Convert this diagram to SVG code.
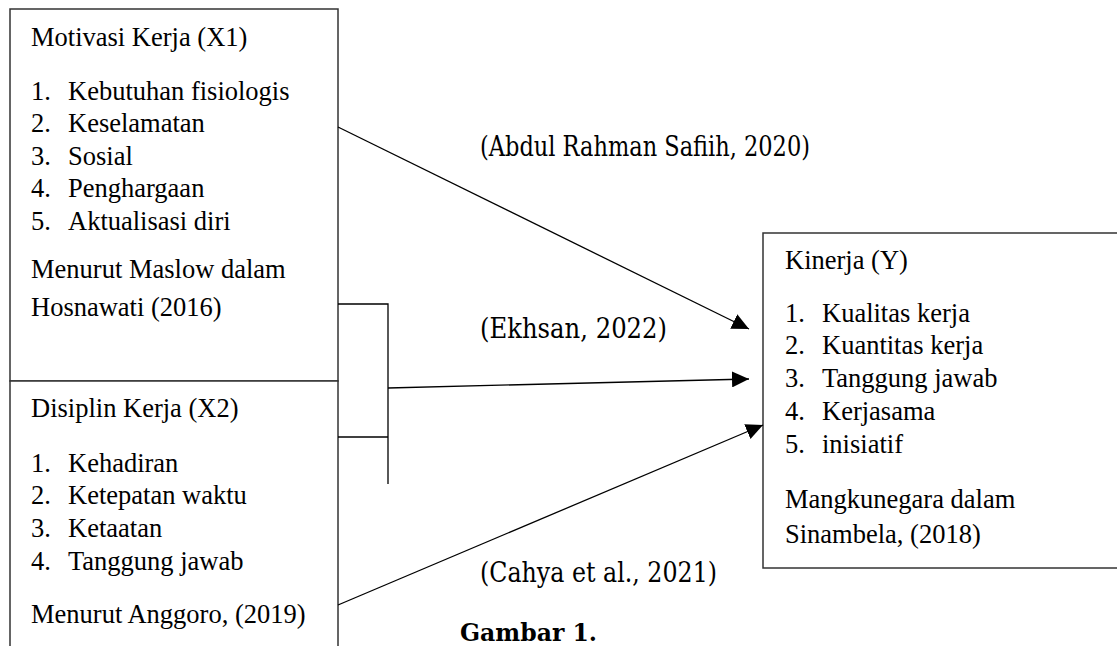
<svg xmlns="http://www.w3.org/2000/svg" width="1117" height="646" viewBox="0 0 1117 646">
<style>
.box{fill:#fff;stroke:#333;stroke-width:1.5}
.t{font-family:"Liberation Serif","Times New Roman",serif;font-size:26.5px;fill:#000}
.c{font-family:"DejaVu Serif","Liberation Serif",serif;font-size:27px;fill:#000}
.b{font-family:"DejaVu Serif","Liberation Serif",serif;font-size:24px;font-weight:bold;fill:#000}
.ln{stroke:#000;stroke-width:1.3;fill:none}
</style>
<defs>
<marker id="ah" markerWidth="18" markerHeight="16" refX="17" refY="8" orient="auto" markerUnits="userSpaceOnUse">
<path d="M0,0 L17,8 L0,16 Z" fill="#000"/>
</marker>
</defs>
<rect width="1117" height="646" fill="#fff"/>
<g id="x1">
<rect class="box" x="10" y="9" width="328" height="372"/>
<text class="t" x="31" y="46">Motivasi Kerja (X1)</text>
<text class="t" x="31" y="100">1.</text><text class="t" x="68" y="100">Kebutuhan fisiologis</text>
<text class="t" x="31" y="132">2.</text><text class="t" x="68" y="132">Keselamatan</text>
<text class="t" x="31" y="165">3.</text><text class="t" x="68" y="165">Sosial</text>
<text class="t" x="31" y="197">4.</text><text class="t" x="68" y="197">Penghargaan</text>
<text class="t" x="31" y="230">5.</text><text class="t" x="68" y="230">Aktualisasi diri</text>
<text class="t" x="31" y="278">Menurut Maslow dalam</text>
<text class="t" x="31" y="316">Hosnawati (2016)</text>
</g>
<g id="x2">
<rect class="box" x="10" y="381" width="328" height="300"/>
<text class="t" x="31" y="417">Disiplin Kerja (X2)</text>
<text class="t" x="31" y="472">1.</text><text class="t" x="68" y="472">Kehadiran</text>
<text class="t" x="31" y="504">2.</text><text class="t" x="68" y="504">Ketepatan waktu</text>
<text class="t" x="31" y="537">3.</text><text class="t" x="68" y="537">Ketaatan</text>
<text class="t" x="31" y="570">4.</text><text class="t" x="68" y="570">Tanggung jawab</text>
<text class="t" x="31" y="623">Menurut Anggoro, (2019)</text>
</g>
<g id="y">
<rect class="box" x="763" y="233" width="360" height="335"/>
<text class="t" x="785" y="269">Kinerja (Y)</text>
<text class="t" x="785" y="322">1.</text><text class="t" x="822" y="322">Kualitas kerja</text>
<text class="t" x="785" y="354">2.</text><text class="t" x="822" y="354">Kuantitas kerja</text>
<text class="t" x="785" y="387">3.</text><text class="t" x="822" y="387">Tanggung jawab</text>
<text class="t" x="785" y="420">4.</text><text class="t" x="822" y="420">Kerjasama</text>
<text class="t" x="785" y="453">5.</text><text class="t" x="822" y="453">inisiatif</text>
<text class="t" x="785" y="508">Mangkunegara dalam</text>
<text class="t" x="785" y="543">Sinambela, (2018)</text>
</g>
<g id="connectors">
<line class="ln" x1="338" y1="127" x2="749" y2="329" marker-end="url(#ah)"/>
<polyline class="ln" points="338,304 388,304 388,484"/>
<line class="ln" x1="338" y1="437" x2="388" y2="437"/>
<line class="ln" x1="388" y1="388" x2="749" y2="379" marker-end="url(#ah)"/>
<line class="ln" x1="338" y1="605" x2="763" y2="425" marker-end="url(#ah)"/>
</g>
<g id="labels">
<text class="c" x="480" y="156" textLength="330" lengthAdjust="spacingAndGlyphs">(Abdul Rahman Safiih, 2020)</text>
<text class="c" x="480" y="338" textLength="187" lengthAdjust="spacingAndGlyphs">(Ekhsan, 2022)</text>
<text class="c" x="480" y="582" textLength="237" lengthAdjust="spacingAndGlyphs">(Cahya et al., 2021)</text>
<text class="b" x="460" y="641" textLength="137" lengthAdjust="spacingAndGlyphs">Gambar 1.</text>
</g>
</svg>
